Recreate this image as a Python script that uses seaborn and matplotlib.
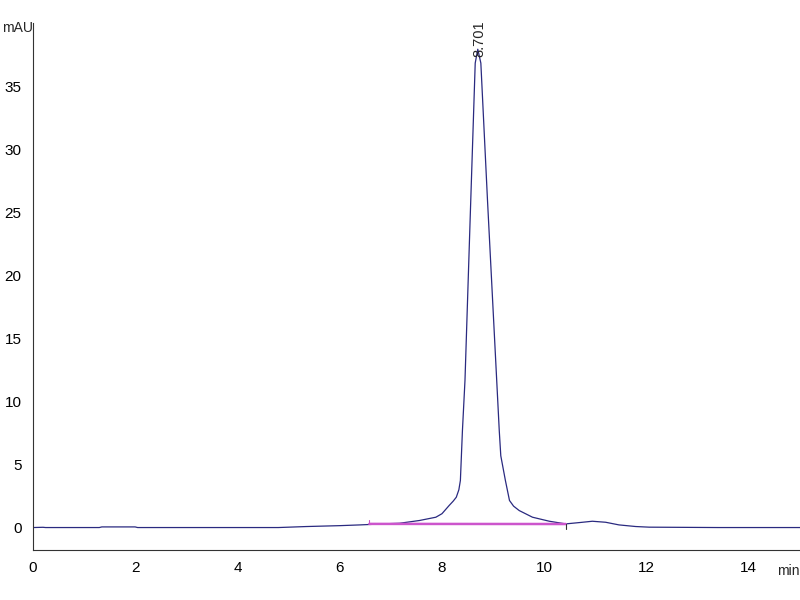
import numpy as np
import pandas as pd
import seaborn as sns
import matplotlib.pyplot as plt
from matplotlib.ticker import MultipleLocator, FixedLocator

# chromatogram trace (time in min, signal in mAU)
time_min = [0.0, 0.2, 0.25, 1.3, 1.35, 2.0, 2.05, 4.8, 5.35, 6.0, 6.4, 6.9,
            7.17, 7.56, 7.88, 8.0, 8.14, 8.22, 8.28, 8.33, 8.36, 8.40, 8.45,
            8.55, 8.65, 8.70, 8.76, 8.89, 9.07, 9.12, 9.15, 9.24, 9.32, 9.40,
            9.51, 9.77, 10.10, 10.42, 10.7, 10.94, 11.2, 11.46, 11.79,
            12.05, 13.4, 15.0]
signal_mau = [0.0, 0.02, 0.0, 0.0, 0.05, 0.05, 0.0, 0.0, 0.08, 0.15, 0.21, 0.3,
              0.34, 0.56, 0.82, 1.1, 1.75, 2.1, 2.41, 3.0, 3.74, 7.7, 11.7,
              24.4, 36.9, 38.0, 36.9, 26.0, 11.7, 7.7, 5.7, 3.74, 2.15, 1.7,
              1.35, 0.82, 0.5, 0.29, 0.4, 0.5, 0.42, 0.21, 0.08,
              0.03, 0.0, 0.0]

# integration baseline
base_time = [6.58, 10.42]
base_mau = [0.29, 0.28]

peak_time = 8.701
peak_height = 38.0

y_major = [0, 5, 10, 15, 20, 25, 30, 35]

sns.set_style("white")
plt.rcParams["font.family"] = ["Liberation Sans Narrow", "Liberation Sans", "DejaVu Sans"]

fig = plt.figure(figsize=(8, 6), dpi=100)
ax = fig.add_axes([0.041, 0.083, 0.959, 0.879])

df = pd.DataFrame({"time": time_min, "mAU": signal_mau})
sns.lineplot(data=df, x="time", y="mAU", ax=ax, color="#2a2a80", linewidth=0.9)
sns.lineplot(x=base_time, y=base_mau, ax=ax, color="#cc55cc", linewidth=1.8)
# small start/end marks of the baseline
ax.plot([base_time[0], base_time[0]], [base_mau[0], base_mau[0] + 0.3],
        color="#cc55cc", linewidth=0.8)
ax.plot([base_time[1], base_time[1]], [base_mau[1], base_mau[1] - 0.4],
        color="#333333", linewidth=0.8)

ax.text(peak_time + 0.03, peak_height - 0.6, f"{peak_time:.3f}", rotation=90,
        ha="center", va="bottom", fontsize=10.5)

ax.set_xlim(0, 15)
ax.set_ylim(-1.8, 40.1)
ax.set_xlabel("")
ax.set_ylabel("")

ax.xaxis.set_major_locator(MultipleLocator(2))
ax.xaxis.set_minor_locator(MultipleLocator(0.5))
ax.yaxis.set_major_locator(FixedLocator(y_major))
ax.yaxis.set_minor_locator(MultipleLocator(1))
ax.tick_params(axis="x", which="major", direction="in", length=5, width=0.8,
               labelsize=11, pad=8, colors="#333333", labelcolor="black")
ax.tick_params(axis="x", which="minor", direction="in", length=4, width=0.8,
               colors="#333333")
ax.tick_params(axis="y", which="major", direction="out", length=6, width=0.8,
               labelsize=11, pad=2, colors="#333333", labelcolor="black")
ax.tick_params(axis="y", which="minor", direction="out", length=3, width=0.8,
               colors="#333333")

for side in ["top", "right"]:
    ax.spines[side].set_visible(False)
for side in ["left", "bottom"]:
    ax.spines[side].set_color("#333333")
    ax.spines[side].set_linewidth(0.8)

fig.text(0.002, 0.953, "mAU", fontsize=10, ha="left", va="center")
fig.text(0.971, 0.048, "min", fontsize=10, ha="left", va="center")

plt.savefig("out.png", dpi=100)
